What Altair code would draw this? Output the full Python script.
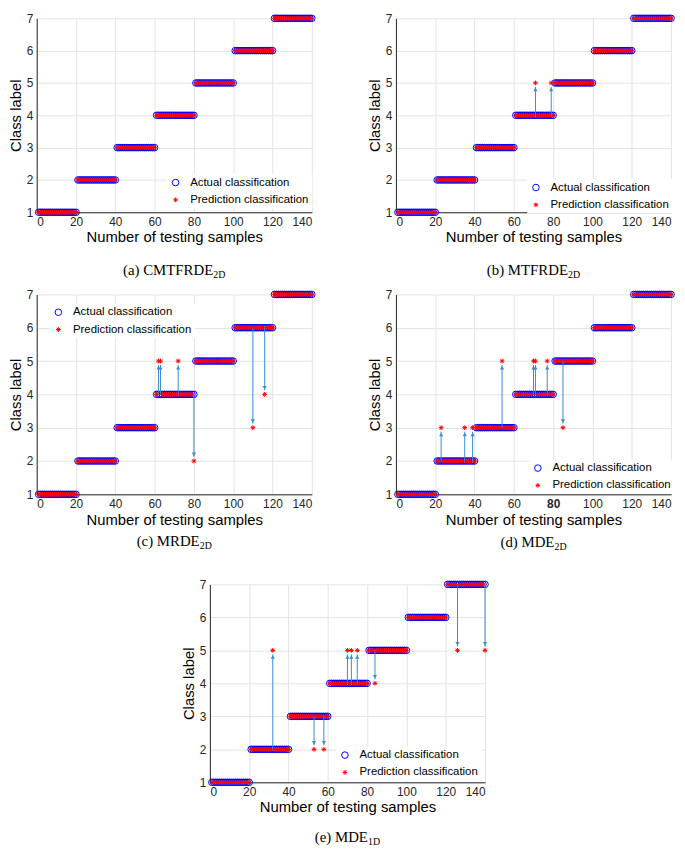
import altair as alt
import pandas as pd

# ---------------- data ----------------
class_labels = [1, 2, 3, 4, 5, 6, 7]
class_counts = [20, 20, 20, 20, 20, 20, 20]
x_ticks = [0, 20, 40, 60, 80, 100, 120, 140]
y_ticks = [1, 2, 3, 4, 5, 6, 7]
series_names = ["Actual classification", "Prediction classification"]

# misclassified samples: sample number -> predicted label
mis_a = {}
mis_b = {71: 5, 79: 5}
mis_c = {62: 5, 63: 5, 72: 5, 80: 2, 110: 3, 116: 4}
mis_d = {23: 3, 35: 3, 39: 3, 54: 5, 70: 5, 71: 5, 77: 5, 85: 3}
mis_e = {32: 5, 53: 2, 58: 2, 70: 5, 72: 5, 75: 5, 84: 4, 126: 5, 140: 5}

captions_main = ["(a) CMTFRDE", "(b) MTFRDE", "(c) MRDE", "(d) MDE", "(e) MDE"]
captions_sub = ["2D", "2D", "2D", "2D", "1D"]

# ---------------- styling ----------------
W = 278
BLUE = "#0000ff"
RED = "#ff0000"
ARROW = "#3a8cd0"
AXC = "#262626"
ASTERISK = "M-0.72,0L0.72,0M0,-0.72L0,0.72M-0.51,-0.51L0.51,0.51M-0.51,0.51L0.51,-0.51"
TIMES = {"(": 333, ")": 333, "a": 444, "b": 500, "c": 444, "d": 500, "e": 444, " ": 250,
         "C": 667, "M": 889, "T": 611, "F": 556, "R": 667, "D": 722, "E": 611, "1": 500, "2": 500}


def tw(s, size):
    return sum(TIMES.get(ch, 500) for ch in s) * size / 1000.0


actual = []
for c, n in zip(class_labels, class_counts):
    actual += [c] * n
samples = list(range(1, len(actual) + 1))


def xenc(field, bold80=False):
    ax = dict(values=x_ticks, title="Number of testing samples", titleFontSize=15,
              labelFontSize=12, ticks=False, labelPadding=4, titlePadding=3,
              labelColor=AXC, titleColor="#000000", domainColor=AXC, gridColor="#e3e3e3")
    if bold80:
        ax["labelFontWeight"] = {"condition": {"test": "datum.value == 80", "value": "bold"}, "value": "normal"}
    return alt.X(field, scale=alt.Scale(domain=[0, 140], nice=False), axis=alt.Axis(**ax))


def yenc(field):
    ax = dict(values=y_ticks, title="Class label", titleFontSize=15, labelFontSize=12,
              ticks=False, labelPadding=4, titlePadding=3, labelColor=AXC, titleColor="#000000",
              domainColor=AXC, gridColor="#e3e3e3")
    return alt.Y(field, scale=alt.Scale(domain=[1, 7], nice=False, zero=False), axis=alt.Axis(**ax))


def panel(mis, H, lx, ly, cap_main, cap_sub, cap_off, bold80=False):
    """lx: legend symbol x as fraction of width; ly: row-1 symbol y in px from top
    (positive) or row-2 gap from the bottom (negative)."""
    pred = [mis.get(s, a) for s, a in zip(samples, actual)]
    df = pd.DataFrame({
        "sample": samples + samples,
        "label": actual + pred,
        "series": [series_names[0]] * len(samples) + [series_names[1]] * len(samples),
    })
    P = 3
    FS = 11.5
    sx = lx * W
    sy1 = ly if ly > 0 else H + ly - 16
    leg = alt.Legend(title=None, orient="none", legendX=sx - P - 3.3, legendY=sy1 - P - FS / 2,
                     padding=P, fillColor="white", labelFontSize=FS, labelFont="Liberation Sans",
                     labelColor="#000000", symbolSize=44, symbolStrokeWidth=1, labelOffset=9,
                     rowPadding=4.5)
    pts = alt.Chart(df).mark_point(filled=False, size=44, strokeWidth=1, opacity=1).encode(
        x=xenc("sample:Q", bold80),
        y=yenc("label:Q"),
        color=alt.Color("series:N", scale=alt.Scale(domain=series_names, range=[BLUE, RED]), legend=leg),
        shape=alt.Shape("series:N", scale=alt.Scale(domain=series_names, range=["circle", ASTERISK]), legend=leg),
    )
    layers = [pts]
    arr = [(s, a, p) for s, a, p in zip(samples, actual, pred) if p != a]
    if arr:
        adf = pd.DataFrame({
            "sample": [r[0] for r in arr],
            "actual": [r[1] for r in arr],
            "tip": [r[2] - 0.12 * (1 if r[2] > r[1] else -1) for r in arr],
            "head": [r[2] - 0.2 * (1 if r[2] > r[1] else -1) for r in arr],
            "dir": ["up" if r[2] > r[1] else "down" for r in arr],
        })
        rule = alt.Chart(adf).mark_rule(color=ARROW, strokeWidth=1).encode(
            x=xenc("sample:Q", bold80), y=yenc("actual:Q"), y2="tip:Q")
        up = alt.Chart(adf).transform_filter("datum.dir == 'up'").mark_point(
            shape="triangle-up", filled=True, color=ARROW, size=18, opacity=1).encode(
            x=xenc("sample:Q", bold80), y=yenc("head:Q"))
        down = alt.Chart(adf).transform_filter("datum.dir == 'down'").mark_point(
            shape="triangle-down", filled=True, color=ARROW, size=18, opacity=1).encode(
            x=xenc("sample:Q", bold80), y=yenc("head:Q"))
        layers += [rule, up, down]
    mw = tw(cap_main, 15)
    sw = tw(cap_sub, 10)
    xr = W / 2 + (mw - sw) / 2
    cap1 = alt.Chart(pd.DataFrame({"t": [cap_main]})).mark_text(
        align="left", baseline="alphabetic", font="Liberation Serif", fontSize=15, color="#000000").encode(
        text="t:N", x=alt.value(xr - mw), y=alt.value(H + cap_off))
    cap2 = alt.Chart(pd.DataFrame({"t": [cap_sub]})).mark_text(
        align="left", baseline="alphabetic", font="Liberation Serif", fontSize=10, color="#000000").encode(
        text="t:N", x=alt.value(xr), y=alt.value(H + cap_off + 3))
    layers += [cap1, cap2]
    return alt.layer(*layers).properties(width=W, height=H)


def indep(c):
    return c.resolve_scale(color="independent", shape="independent").resolve_legend(
        color="independent", shape="independent")


pa = panel(mis_a, 196, 0.496, -14, captions_main[0], captions_sub[0], 63)
pb = panel(mis_b, 196, 0.500, -9, captions_main[1], captions_sub[1], 63)
pc = panel(mis_c, 202, 0.070, 18, captions_main[2], captions_sub[2], 52)
pd_ = panel(mis_d, 202, 0.507, -10.5, captions_main[3], captions_sub[3], 53, bold80=True)
pe = panel(mis_e, 200, 0.482, -11.5, captions_main[4], captions_sub[4], 60)

spacer = alt.Chart(pd.DataFrame({"a": [0]})).mark_point(opacity=0).encode(
    x=alt.value(0), y=alt.value(0)).properties(width=146, height=10)

row1 = indep(alt.hconcat(pa, pb, spacing=50))
row2 = indep(alt.hconcat(pc, pd_, spacing=50))
row3 = indep(alt.hconcat(spacer, pe, spacing=0))

top = indep(alt.vconcat(row1, row2, spacing=9))
chart = indep(alt.vconcat(top, row3, spacing=27)).properties(
    padding={"left": 0, "top": 0, "right": 0, "bottom": 0}
).configure_view(stroke=None).configure_axis(
    labelFont="Liberation Sans", titleFont="Liberation Sans", titleFontWeight="normal"
).configure_legend(labelFont="Liberation Sans")

chart.save("out.html", embed_options={"renderer": "svg", "actions": False})
